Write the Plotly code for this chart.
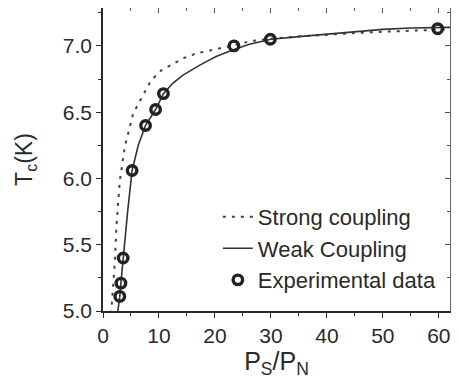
import plotly.graph_objects as go

# Experimental data
exp_x = [3.0, 3.2, 3.6, 5.2, 7.6, 9.4, 10.8, 23.4, 29.9, 59.8]
exp_y = [5.11, 5.21, 5.40, 6.06, 6.40, 6.52, 6.64, 7.00, 7.05, 7.13]

# Weak coupling curve
weak_x = [2.6, 2.7, 3.0, 3.2, 3.6, 4.4, 5.2, 6.3, 7.6, 9.4, 10.8, 12.5, 14.3, 17.3,
          20.2, 22.6, 26, 30, 35, 40, 45, 50, 55, 60, 62]
weak_y = [4.98, 5.01, 5.11, 5.21, 5.40, 5.75, 6.06, 6.25, 6.40, 6.52, 6.64, 6.72, 6.78,
          6.855, 6.92, 6.96, 7.01, 7.05, 7.07, 7.09, 7.11, 7.125, 7.135, 7.14, 7.14]

# Strong coupling curve
strong_x = [1.45, 1.5, 2.1, 2.4, 3.0, 3.9, 4.8, 5.4, 6.4, 7.5, 8.6, 10.4, 12.5, 14.3,
            16.7, 18.8, 20.8, 22.9, 26.2, 30, 34.5, 40, 46.4, 52, 58.3, 62]
strong_y = [4.98, 5.01, 5.36, 5.64, 5.98, 6.24, 6.39, 6.49, 6.57, 6.66, 6.74, 6.815,
            6.867, 6.906, 6.944, 6.963, 6.98, 7.0, 7.035, 7.055, 7.07, 7.085, 7.10,
            7.11, 7.12, 7.125]

x_ticks = [0, 10, 20, 30, 40, 50, 60]
y_ticks = [5.0, 5.5, 6.0, 6.5, 7.0]
y_ticklabels = ["5.0", "5.5", "6.0", "6.5", "7.0"]

FONT = "Liberation Sans, Arial, sans-serif"
DARK = "#2a2a2a"

fig = go.Figure()
fig.add_trace(go.Scatter(x=strong_x, y=strong_y, mode="lines", name="Strong coupling",
                         line=dict(color="#444444", width=2, dash="3px,6px")))
fig.add_trace(go.Scatter(x=weak_x, y=weak_y, mode="lines", name="Weak Coupling",
                         line=dict(color="#333333", width=1.6)))
fig.add_trace(go.Scatter(x=exp_x, y=exp_y, mode="markers", name="Experimental data",
                         marker=dict(symbol="circle-open", size=9.5, color="#222222",
                                     line=dict(width=3.4, color="#222222"))))
# invisible trace to instantiate top/right mirror axes
fig.add_trace(go.Scatter(x=exp_x, y=exp_y, xaxis="x2", yaxis="y2", mode="markers",
                         marker=dict(opacity=0), showlegend=False, hoverinfo="skip"))

xr = [0, 62]
yr = [5.0, 7.286]

fig.update_layout(
    width=451, height=371,
    margin=dict(l=95, r=9, t=0, b=68, autoexpand=False),
    paper_bgcolor="white", plot_bgcolor="white",
    font=dict(family=FONT, size=21, color=DARK),
    showlegend=True,
    legend=dict(x=0.331, y=0.38, xanchor="left", yanchor="top",
                bgcolor="rgba(0,0,0,0)", font=dict(size=22, color=DARK),
                tracegroupgap=0),
    xaxis=dict(range=xr, tickvals=x_ticks, ticks="outside", ticklen=5, tickwidth=1.2,
               tickcolor=DARK, showline=True, linecolor=DARK, linewidth=1.5,
               showgrid=False, zeroline=False,
               minor=dict(dtick=5, tick0=0, ticks="outside", ticklen=3, tickcolor=DARK),
               title=dict(text="P<sub>S</sub>/P<sub>N</sub>", font=dict(size=25), standoff=7)),
    yaxis=dict(range=yr, tickvals=y_ticks, ticktext=y_ticklabels, ticks="outside",
               ticklen=5, tickwidth=1.2, tickcolor=DARK, showline=True, linecolor=DARK,
               linewidth=1.5, showgrid=False, zeroline=False,
               minor=dict(dtick=0.25, tick0=5.0, ticks="outside", ticklen=3, tickcolor=DARK),
               title=dict(text="T<sub>c</sub>(K)", font=dict(size=23), standoff=24)),
    xaxis2=dict(range=xr, overlaying="x", side="top", anchor="y", tickvals=x_ticks,
                ticks="inside", ticklen=5, tickcolor="#555", showticklabels=False,
                showline=True, linecolor="#666", linewidth=1.2, showgrid=False,
                zeroline=False,
                minor=dict(dtick=5, tick0=0, ticks="inside", ticklen=3, tickcolor="#555")),
    yaxis2=dict(range=yr, overlaying="y", side="right", anchor="x", tickvals=y_ticks,
                ticks="inside", ticklen=5, tickcolor="#555", showticklabels=False,
                showline=True, linecolor="#666", linewidth=1.2, showgrid=False,
                zeroline=False,
                minor=dict(dtick=0.25, tick0=5.0, ticks="inside", ticklen=3, tickcolor="#555")),
)

fig.write_html("out.html")
